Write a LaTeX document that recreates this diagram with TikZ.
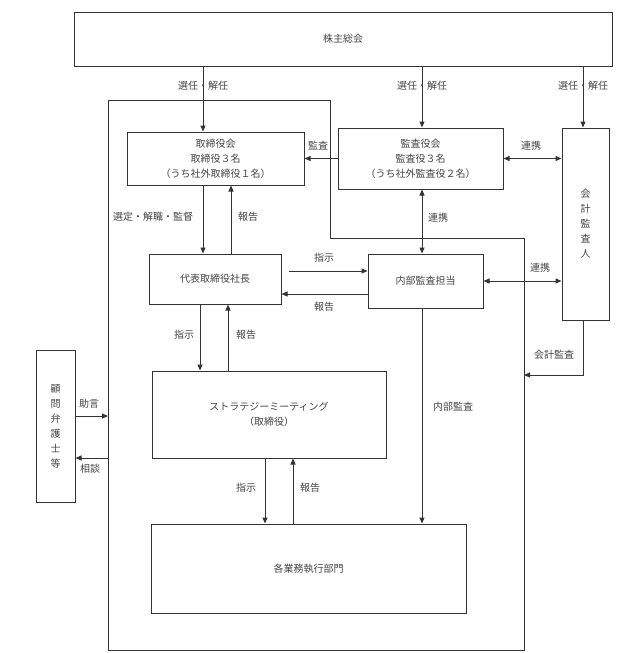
\documentclass[tikz,border=0pt]{standalone}
\usepackage{fontspec}
\usepackage{xcolor}
\usetikzlibrary{arrows.meta}
\newfontfamily\jpfont{Noto Sans CJK JP}
\definecolor{trait}{HTML}{333333}
\definecolor{texte}{HTML}{444444}

\begin{document}
\begin{tikzpicture}[x=1pt,y=-1pt,font=\jpfont\fontsize{10}{15}\selectfont,
  boite/.style={draw=trait,line width=1pt,text=texte,align=center,inner sep=0pt},
  fleche/.style={draw=trait,line width=1pt,-{Triangle[length=6pt,width=5pt]}},
  dfleche/.style={draw=trait,line width=1pt,{Triangle[length=6pt,width=5pt]}-{Triangle[length=6pt,width=5pt]}},
  etiq/.style={text=texte,inner sep=1pt}]

\useasboundingbox (0,0) rectangle (637,653);

% Cadre de la société
\coordinate (gauche) at (108,100);
\coordinate (droite) at (524,238);
\draw[trait,line width=1pt] (gauche) -- (330,100) -- (330,238) -- (droite) -- (524,650) -- (108,650) -- cycle;

% Boîtes
\node[boite,minimum width=538pt,minimum height=54pt] (kabu) at (343,39) {株主総会};
\node[boite,minimum width=177pt,minimum height=53pt] (tori) at (215.5,158.5) {取締役会\\取締役３名\\（うち社外取締役１名）};
\node[boite,minimum width=165pt,minimum height=61pt] (kansa) at (420.5,158.5) {監査役会\\監査役３名\\（うち社外監査役２名）};
\node[boite,minimum width=47pt,minimum height=192pt] (kaikei) at (585.5,224) {会\\計\\監\\査\\人};
\node[boite,minimum width=132pt,minimum height=50pt] (daihyo) at (215,279) {代表取締役社長};
\node[boite,minimum width=115pt,minimum height=54pt] (naibu) at (425.5,281) {内部監査担当};
\node[boite,minimum width=234pt,minimum height=87pt] (strat) at (269,414.5) {ストラテジーミーティング\\（取締役）};
\node[boite,minimum width=315pt,minimum height=89pt] (kaku) at (308.5,568.5) {各業務執行部門};
\node[boite,minimum width=39pt,minimum height=152pt] (komon) at (55.5,426) {顧\\問\\弁\\護\\士\\等};

% Colonnes et lignes des flèches
\coordinate (xa) at (203,0);
\coordinate (xb) at (231,0);
\coordinate (xc) at (422,0);
\coordinate (xd) at (583,0);
\coordinate (xe) at (200,0);
\coordinate (xf) at (228,0);
\coordinate (xg) at (265,0);
\coordinate (xh) at (293,0);
\coordinate (ya) at (0,271);
\coordinate (yb) at (0,294);
\coordinate (yc) at (0,375);
\coordinate (yd) at (0,416);
\coordinate (ye) at (0,458);

% Flèches
\draw[fleche] (kabu.south -| xa) -- (tori.north -| xa);
\draw[fleche] (kabu.south -| xc) -- (kansa.north -| xc);
\draw[fleche] (kabu.south -| xd) -- (kaikei.north -| xd);
\draw[fleche] (kansa.west) -- (tori.east);
\draw[dfleche] (kansa.east) -- (kaikei.west |- kansa.east);
\draw[fleche] (tori.south -| xa) -- (daihyo.north -| xa);
\draw[fleche] (daihyo.north -| xb) -- (tori.south -| xb);
\draw[dfleche] (kansa.south -| xc) -- (naibu.north -| xc);
\draw[fleche,shorten <=7pt] (daihyo.east |- ya) -- (naibu.west |- ya);
\draw[fleche] (naibu.west |- yb) -- (daihyo.east |- yb);
\draw[dfleche] (naibu.east) -- (kaikei.west |- naibu.east);
\draw[fleche] (kaikei.south -| xd) |- (droite |- yc);
\draw[fleche] (daihyo.south -| xe) -- (strat.north -| xe);
\draw[fleche] (strat.north -| xf) -- (daihyo.south -| xf);
\draw[fleche] (strat.south -| xg) -- (kaku.north -| xg);
\draw[fleche] (kaku.north -| xh) -- (strat.south -| xh);
\draw[fleche] (naibu.south -| xc) -- (kaku.north -| xc);
\draw[fleche] (komon.east |- yd) -- (gauche |- yd);
\draw[fleche] (gauche |- ye) -- (komon.east |- ye);

% Etiquettes
\node[etiq] (e1) at (203,86) {選任・解任};
\node[etiq] (e2) at (422,86) {選任・解任};
\node[etiq] (e3) at (583,86) {選任・解任};
\node[etiq] (e4) at (318,146) {監査};
\node[etiq] (e5) at (531,146) {連携};
\node[etiq] (e6) at (153,217) {選定・解職・監督};
\node[etiq] (e7) at (248,217) {報告};
\node[etiq] (e8) at (438,218) {連携};
\node[etiq] (e9) at (324,258) {指示};
\node[etiq] (e10) at (324,307) {報告};
\node[etiq] (e11) at (540,268) {連携};
\node[etiq] (e12) at (554,355) {会計監査};
\node[etiq] (e13) at (184,335) {指示};
\node[etiq] (e14) at (246,335) {報告};
\node[etiq] (e15) at (453,407) {内部監査};
\node[etiq] (e16) at (246,488) {指示};
\node[etiq] (e17) at (310,488) {報告};
\node[etiq] (e18) at (89,404) {助言};
\node[etiq] (e19) at (90,469) {相談};

\end{tikzpicture}
\end{document}
